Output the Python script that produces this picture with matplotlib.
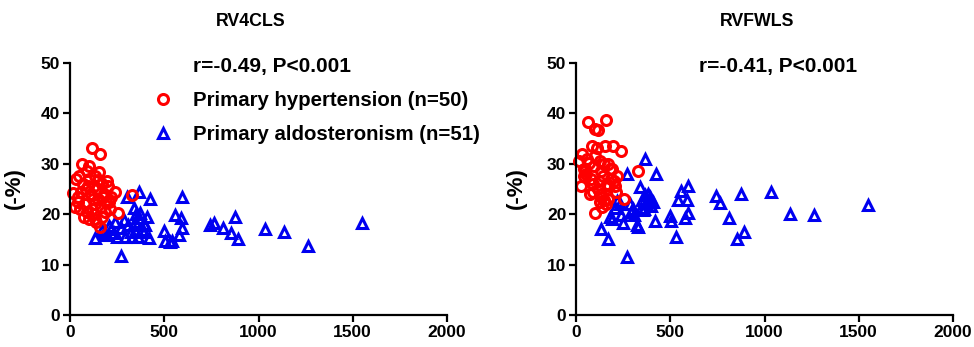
import matplotlib
matplotlib.use("Agg")
import matplotlib.pyplot as plt

plt.rcParams['font.family'] = ['Liberation Sans', 'DejaVu Sans']
plt.rcParams['font.weight'] = 'bold'

# ---------------- data ----------------
titles = ["RV4CLS", "RVFWLS"]
stats = ["r=-0.49, P<0.001", "r=-0.41, P<0.001"]
ylabel = "(-%)"
legend_labels = ["Primary hypertension (n=50)", "Primary aldosteronism (n=51)"]
xticks = [0, 500, 1000, 1500, 2000]
yticks = [0, 10, 20, 30, 40, 50]

ph_x = [115, 160, 65, 103, 156, 32, 195, 150, 239, 329,
        255, 158, 27, 18, 85, 110, 180, 207, 101, 45,
        55, 70, 80, 90, 95, 120, 125, 130, 135, 140,
        145, 165, 170, 175, 185, 190, 200, 60, 40, 75,
        100, 115, 125, 150, 210, 50, 88, 135, 170, 220]
ph_rv4cls = [33.1, 32.0, 30.0, 29.5, 28.3, 26.9, 26.5, 26.8, 24.5, 23.8,
             20.2, 17.4, 21.5, 24.2, 25.0, 24.0, 24.0, 22.5, 19.0, 23.5,
             21.0, 26.0, 22.0, 20.5, 25.5, 23.0, 20.0, 27.5, 22.0, 18.5,
             25.0, 21.5, 19.5, 23.5, 20.5, 22.5, 25.5, 24.5, 22.5, 19.5,
             27.0, 21.0, 25.5, 23.0, 21.0, 27.5, 28.5, 19.0, 26.0, 23.5]
ph_rvfwls = [36.8, 38.7, 38.3, 37.0, 33.6, 31.9, 33.6, 30.0, 32.6, 28.6,
             23.1, 22.0, 25.6, 30.5, 33.6, 33.2, 28.9, 25.6, 20.3, 29.0,
             28.0, 30.2, 27.0, 24.5, 29.5, 26.5, 22.5, 28.5, 24.0, 21.5,
             27.5, 26.0, 23.0, 25.5, 27.0, 29.0, 26.5, 31.0, 27.5, 24.0,
             31.5, 25.0, 30.5, 22.8, 24.5, 28.5, 26.0, 23.5, 30.0, 27.5]

pa_x = [1549, 1263, 1135, 1035, 875, 889, 855, 812, 766, 745,
        593, 555, 540, 591, 594, 578, 530, 499, 505, 420,
        425, 368, 272, 133, 168, 190, 205, 240, 250, 270,
        232, 300, 310, 322, 330, 340, 345, 352, 360, 365,
        373, 380, 390, 400, 410, 294, 285, 220, 180, 355, 395]
pa_rv4cls = [18.3, 13.6, 16.4, 17.0, 19.5, 15.1, 16.2, 17.2, 18.3, 17.9,
             23.4, 19.9, 14.6, 19.2, 17.2, 15.9, 14.4, 16.6, 14.6, 15.2,
             23.0, 24.4, 11.8, 15.3, 16.9, 15.9, 17.6, 18.5, 15.4, 17.2,
             16.2, 23.5, 17.9, 16.5, 15.4, 21.3, 18.5, 20.0, 15.5, 19.2,
             20.2, 16.9, 18.0, 17.9, 19.5, 15.5, 18.8, 17.0, 16.3, 17.8, 16.5]
pa_rvfwls = [21.8, 19.8, 20.1, 24.4, 24.1, 16.4, 15.1, 19.2, 22.2, 23.7,
             25.6, 24.6, 22.9, 22.8, 20.3, 19.3, 15.5, 19.6, 18.6, 18.6,
             27.9, 31.0, 11.6, 17.1, 15.0, 19.0, 21.2, 19.9, 18.2, 27.9,
             22.0, 21.0, 19.9, 17.9, 17.4, 25.4, 21.2, 22.9, 21.0, 23.8,
             22.3, 24.0, 23.5, 21.6, 22.5, 20.5, 22.0, 22.6, 19.5, 20.8, 23.0]

ph_sets = [ph_rv4cls, ph_rvfwls]
pa_sets = [pa_rv4cls, pa_rvfwls]

RED = '#FF0000'
BLUE = '#0000F0'

fig = plt.figure(figsize=(9.74, 3.47), dpi=100)
W, H = 974, 347
axes_px = [(70, 447), (576, 953)]
y0_px, y50_px = 315, 63

for i, (xl, xr) in enumerate(axes_px):
    ax = fig.add_axes([xl / W, 1 - y0_px / H, (xr - xl) / W, (y0_px - y50_px) / H])
    ax.plot(pa_x, pa_sets[i], linestyle='none', marker='^', ms=7.8,
            mfc='none', mec=BLUE, mew=2.2, label=legend_labels[1], clip_on=False)
    ax.plot(ph_x, ph_sets[i], linestyle='none', marker='o', ms=7.2,
            mfc='none', mec=RED, mew=2.2, label=legend_labels[0], clip_on=False)
    ax.set_xlim(0, 2000)
    ax.set_ylim(0, 50)
    ax.set_xticks(xticks)
    ax.set_yticks(yticks)
    for s in ['top', 'right']:
        ax.spines[s].set_visible(False)
    for s in ['left', 'bottom']:
        ax.spines[s].set_linewidth(1.6)
    ax.tick_params(width=1.6, length=5, labelsize=12.5, pad=2)
    for lab in ax.get_xticklabels() + ax.get_yticklabels():
        lab.set_fontweight('bold')
    ax.set_ylabel(ylabel, fontsize=16, fontweight='bold')
    ax.yaxis.set_label_coords((25 + 502 * i - xl) / (xr - xl), 0.504)
    ax.text(0.48, 1.163, titles[i], transform=ax.transAxes, ha='center',
            va='center', fontsize=12.8, fontweight='bold')
    ax.text(0.536, 0.985, stats[i], transform=ax.transAxes, ha='center',
            va='center', fontsize=15, fontweight='bold')
    if i == 0:
        h, l = ax.get_legend_handles_labels()
        ax.legend(h[::-1], l[::-1], loc='upper left', bbox_to_anchor=(0.219, 0.887),
                  frameon=False, handlelength=1.0, handletextpad=0.96,
                  labelspacing=0.7, borderpad=0, borderaxespad=0,
                  prop={'weight': 'bold', 'size': 14.7})

fig.savefig('out.png', dpi=100)
